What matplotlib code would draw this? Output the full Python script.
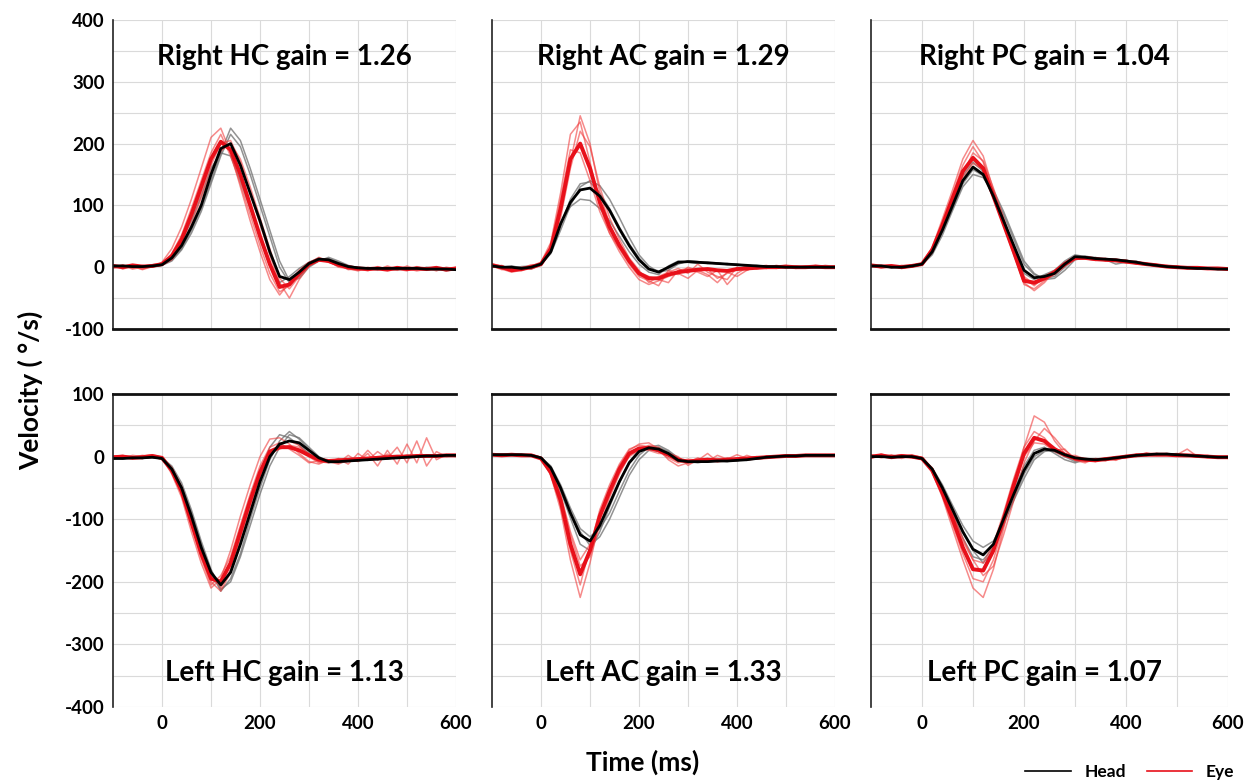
# -*- coding: utf-8 -*-
import numpy as np
from matplotlib import pyplot as plt
from matplotlib.lines import Line2D

plt.rcParams['font.family'] = ['Lato', 'DejaVu Sans']

# time axis (ms), one sample every 20 ms
t = list(range(-100, 601, 20))

# ---- Right HC ----
rhc_head = [2, 2, 1, 1, 2, 4, 15, 35, 65, 100, 150, 192, 200, 165, 120, 75, 25, -15, -20, -8, 6, 13, 12, 6, 1, -1, -2, -2, -2, -2, -2, -2, -3, -3, -3, -4]
rhc_eye = [2, 0, 3, 1, 2, 5, 18, 45, 85, 130, 175, 203, 190, 150, 100, 50, 5, -32, -28, -10, 5, 12, 10, 4, 0, -2, -3, -2, -4, -1, -3, -2, -3, -1, -4, -2]
rhc_head_tr = [
    [3, 1, 2, 0, 1, 3, 10, 28, 55, 90, 135, 180, 215, 195, 150, 100, 50, 0, -25, -15, 2, 12, 14, 8, 2, 0, -3, -1, -4, -2, 0, -3, -1, -4, -2, -5],
    [1, 3, 0, 2, 3, 5, 18, 42, 75, 115, 160, 185, 180, 140, 95, 50, 5, -25, -15, -2, 8, 15, 10, 4, 0, -3, -2, -5, -1, -3, -4, 0, -2, -5, -3, -4],
    [2, 0, 3, 1, 0, 4, 12, 30, 60, 95, 140, 185, 225, 205, 160, 110, 60, 10, -22, -18, 0, 10, 16, 10, 3, -2, -4, -1, -3, -5, -2, -4, 0, -2, -6, -3],
]
rhc_eye_tr = [
    [0, 4, -2, 3, 0, 8, 30, 65, 110, 160, 210, 225, 185, 130, 75, 25, -20, -45, -25, -5, 8, 14, 8, 2, -3, -5, 0, -4, 2, -3, -6, 1, -4, -2, -5, 0],
    [4, -3, 2, -4, 1, 4, 15, 40, 80, 120, 165, 200, 205, 170, 120, 70, 20, -25, -50, -20, 2, 10, 12, 5, -4, -2, -6, 1, -3, -5, 2, -4, -1, -6, 0, -3],
    [1, 2, -3, 0, 4, 6, 22, 52, 95, 140, 185, 215, 180, 135, 85, 35, -10, -40, -30, -8, 6, 16, 10, 0, -2, -6, -1, -3, -5, 0, -4, -2, -5, -3, -1, -4],
    [-2, 3, 0, -3, 2, 3, 12, 35, 70, 112, 155, 188, 200, 175, 130, 80, 30, -18, -35, -15, 4, 11, 9, 3, -1, -3, -5, -2, 0, -4, -2, -6, -3, 0, -5, -2],
]

# ---- Right AC ----
rac_head = [2, 0, 0, -2, 0, 5, 25, 70, 105, 125, 128, 115, 92, 62, 35, 12, -3, -8, 0, 8, 9, 8, 7, 6, 5, 4, 3, 2, 1, 1, 0, 0, 0, 0, 0, 0]
rac_eye = [3, 0, -5, -3, 0, 5, 30, 95, 175, 200, 160, 105, 65, 35, 10, -10, -18, -18, -12, -8, -6, -4, -3, -5, -6, -3, -2, -1, 0, 0, 1, 0, 0, 1, 0, 0]
rac_head_tr = [
    [3, -2, 1, 0, -3, 4, 22, 60, 100, 130, 140, 132, 110, 80, 48, 20, 2, -8, -5, 5, 10, 9, 8, 7, 5, 4, 2, 3, 1, 0, 1, -1, 0, 1, -1, 0],
    [0, 2, -2, 1, 2, 6, 28, 72, 98, 110, 108, 95, 75, 50, 25, 5, -8, -12, 2, 10, 8, 6, 8, 5, 6, 3, 4, 1, 2, 0, -1, 1, 0, -1, 1, 0],
    [1, 0, 2, -1, 1, 5, 24, 68, 110, 135, 138, 120, 95, 65, 38, 15, -2, -6, -2, 6, 10, 9, 6, 7, 4, 5, 2, 2, 0, 1, 0, 0, 1, -1, 0, 1],
]
rac_eye_tr = [
    [5, -3, -8, -5, 2, 8, 40, 120, 215, 235, 170, 100, 55, 25, 0, -20, -28, -22, -15, -10, -18, -5, -12, -25, -8, -15, -5, 2, -2, 3, 0, 2, -1, 3, 1, -1],
    [0, 3, -6, 0, -3, 3, 25, 80, 160, 220, 195, 130, 80, 45, 15, -5, -25, -15, -8, -2, -10, 5, -8, -15, -20, 0, -5, 1, 3, -2, 2, -1, 2, 0, 3, 1],
    [2, -4, -2, -6, 1, 6, 35, 110, 190, 185, 140, 90, 55, 30, 5, -15, -22, -30, -5, -12, 0, -6, -3, -18, -10, -4, 2, -3, 1, 2, -2, 1, 0, 2, -1, 2],
    [6, 1, -4, -2, 4, 4, 28, 90, 170, 245, 200, 120, 70, 38, 12, -8, -15, -20, -25, -5, -2, -8, -15, -5, -28, -10, -1, 0, -2, 1, 3, -2, 1, 0, 2, -1],
]

# ---- Right PC ----
rpc_head = [2, 2, 0, 0, 2, 5, 25, 60, 100, 140, 162, 150, 115, 75, 35, -5, -17, -15, -10, 5, 17, 16, 14, 13, 12, 10, 8, 5, 3, 1, 0, -1, -2, -2, -3, -3]
rpc_eye = [3, 1, 2, 0, 2, 5, 28, 68, 112, 155, 177, 160, 115, 70, 25, -22, -25, -18, -8, 5, 15, 15, 13, 12, 11, 9, 7, 5, 3, 1, 0, -1, -1, -2, -2, -3]
rpc_head_tr = [
    [3, 1, 2, -1, 1, 4, 20, 52, 92, 130, 150, 145, 120, 85, 45, 5, -12, -18, -15, 0, 15, 18, 15, 12, 5, 8, 10, 4, 2, 2, -1, 0, -3, -1, -2, -4],
    [1, 3, -1, 1, 3, 6, 28, 65, 108, 148, 170, 155, 112, 68, 28, -10, -20, -12, -5, 10, 20, 17, 12, 14, 10, 12, 6, 6, 4, 0, 1, -2, -1, -3, -2, -3],
    [2, 0, 1, 2, 0, 5, 22, 58, 95, 135, 158, 148, 125, 90, 50, 10, -10, -20, -18, -5, 12, 15, 16, 11, 13, 9, 7, 5, 2, 1, -1, -2, -2, -1, -4, -2],
]
rpc_eye_tr = [
    [4, 0, 3, -2, 1, 7, 32, 78, 125, 175, 205, 180, 125, 75, 25, -28, -35, -22, -10, 3, 12, 16, 12, 14, 10, 8, 9, 4, 5, 0, 2, -2, 0, -3, -1, -2],
    [1, 3, 0, 2, 4, 4, 24, 60, 102, 145, 168, 158, 120, 78, 32, -15, -28, -20, -12, 2, 14, 13, 15, 10, 12, 10, 5, 6, 2, 3, -1, 0, -2, -1, -3, -2],
    [3, -1, 2, 1, 0, 6, 30, 72, 118, 165, 195, 170, 118, 68, 20, -25, -38, -25, -6, 8, 16, 14, 11, 13, 9, 11, 6, 3, 4, 1, 1, -2, -1, -3, -2, -4],
    [2, 2, -1, 3, 2, 5, 26, 65, 108, 150, 185, 172, 128, 80, 30, -18, -30, -15, -5, 6, 13, 17, 14, 11, 12, 7, 8, 5, 2, 2, 0, -1, -3, -2, -1, -3],
]

# ---- Left HC ----
lhc_head = [-3, -3, -2, -2, -1, -3, -20, -50, -95, -145, -185, -205, -185, -140, -90, -40, 0, 20, 25, 22, 10, -2, -8, -8, -7, -6, -5, -4, -3, -2, -1, 0, 1, 1, 2, 2]
lhc_eye = [-1, 0, -2, -1, 1, -2, -22, -55, -105, -155, -195, -200, -170, -120, -70, -25, 8, 15, 15, 10, 2, -5, -7, -6, -5, -4, -3, -2, -1, 0, 0, 1, 1, 1, 2, 2]
lhc_head_tr = [
    [-4, -2, -3, -1, -2, -2, -15, -42, -85, -135, -180, -212, -200, -160, -110, -60, -15, 15, 35, 30, 15, 0, -8, -10, -8, -5, -6, -3, -4, -1, -2, 0, 0, 2, 1, 3],
    [-2, -4, -1, -3, 0, -4, -22, -55, -100, -150, -190, -200, -170, -125, -75, -25, 15, 35, 30, 18, 5, -5, -9, -7, -6, -7, -4, -5, -2, -3, 0, -1, 2, 0, 3, 1],
    [-3, -1, -2, -3, -1, -3, -18, -48, -90, -140, -185, -215, -195, -155, -100, -50, -5, 25, 40, 28, 12, -3, -10, -9, -6, -4, -5, -2, -3, -1, 1, -1, 1, 2, 1, 2],
]
lhc_eye_tr = [
    [0, 2, -3, 1, 3, -1, -28, -65, -120, -170, -210, -195, -150, -95, -45, 0, 28, 30, 20, 5, -8, -12, -5, -10, 2, -8, 5, -15, 10, -12, 20, -10, 30, -5, 3, 1],
    [-2, 1, 0, -2, 2, -3, -20, -50, -98, -150, -200, -215, -185, -135, -85, -35, 5, 12, 18, 15, 5, -8, -10, -4, -12, 5, -6, 8, -3, 15, -10, 25, -15, 8, 0, 2],
    [1, -2, 2, 0, -1, -1, -24, -60, -110, -162, -205, -190, -160, -110, -60, -15, 15, 22, 12, 2, -10, -6, -9, -3, -6, -2, -4, 0, 1, -2, 3, 0, 2, 1, 3, 0],
    [-1, 1, -1, 2, 0, -2, -18, -48, -95, -145, -185, -210, -180, -128, -78, -30, 2, 20, 25, 18, 0, -10, -8, -12, -5, -7, 10, -6, 4, -2, 1, 2, 0, 3, 1, 2],
]

# ---- Left AC ----
lac_head = [3, 3, 3, 3, 2, -2, -18, -50, -90, -125, -135, -110, -75, -40, -10, 8, 14, 12, 5, -6, -8, -8, -8, -7, -7, -6, -5, -3, -1, 0, 1, 1, 2, 2, 2, 2]
lac_eye = [3, 2, 3, 2, 2, -3, -25, -70, -140, -188, -150, -95, -55, -20, 5, 13, 14, 10, 3, -5, -8, -6, -5, -6, -5, -4, -3, -2, -1, 0, 1, 1, 2, 2, 2, 2]
lac_head_tr = [
    [4, 2, 3, 2, 3, -1, -15, -45, -82, -115, -128, -115, -90, -55, -22, 2, 15, 18, 10, -2, -10, -9, -6, -8, -6, -5, -4, -4, -2, 0, 0, 2, 1, 3, 2, 1],
    [2, 4, 2, 3, 1, -3, -20, -55, -98, -140, -150, -120, -80, -42, -8, 10, 12, 8, 2, -8, -7, -10, -7, -6, -8, -5, -6, -2, -2, 1, 1, 0, 3, 2, 1, 3],
    [3, 3, 4, 2, 2, -2, -17, -48, -88, -120, -142, -128, -100, -65, -30, -5, 10, 15, 8, -3, -9, -6, -9, -7, -5, -7, -3, -3, 0, -1, 2, 1, 2, 1, 3, 2],
]
lac_eye_tr = [
    [4, 3, 2, 4, 1, -2, -30, -85, -165, -225, -170, -100, -55, -15, 10, 20, 22, 12, -5, -15, -10, -2, -8, 2, -4, 3, -3, 0, -2, 1, 2, 0, 3, 1, 2, 3],
    [2, 3, 3, 1, 3, -4, -22, -62, -125, -175, -160, -110, -65, -28, 2, 12, 10, 5, 5, 0, -14, -5, -3, -7, -2, -6, 2, -3, 0, -1, 2, 2, 1, 3, 1, 2],
    [3, 1, 4, 3, 2, -3, -28, -78, -150, -205, -145, -85, -45, -12, 12, 18, 16, 8, -2, -10, -6, -8, -4, -3, -7, -2, -4, -1, 0, 1, 0, 2, 2, 1, 3, 2],
    [2, 4, 2, 3, 2, -2, -20, -60, -120, -165, -140, -100, -62, -25, 0, 10, 18, 15, 2, -8, -4, -6, 5, -8, -3, -5, -2, -4, 1, 0, 2, 1, 3, 2, 1, 3],
]

# ---- Left PC ----
lpc_head = [0, 0, -1, 0, 0, -3, -20, -50, -85, -120, -148, -157, -140, -100, -60, -22, 5, 12, 10, 3, -2, -4, -5, -4, -2, 0, 2, 3, 4, 4, 3, 2, 1, 0, -1, -1]
lpc_eye = [0, 2, -1, 1, 0, -3, -22, -58, -100, -145, -180, -182, -150, -100, -45, 5, 30, 25, 12, 3, -3, -5, -6, -4, -2, 0, 2, 3, 3, 3, 2, 2, 1, 0, -1, -1]
lpc_head_tr = [
    [1, -1, 0, -2, 1, -2, -18, -45, -78, -110, -135, -145, -135, -105, -70, -35, -5, 8, 12, 5, -1, -6, -4, -5, -3, 1, 1, 4, 3, 5, 2, 3, 0, 1, -2, 0],
    [-1, 1, -2, 1, -1, -4, -22, -55, -92, -130, -160, -165, -145, -98, -55, -15, 10, 15, 5, -5, -10, -5, -6, -3, -1, -1, 3, 2, 5, 3, 4, 1, 2, -1, 0, -2],
    [0, 1, 0, -1, 0, -3, -19, -48, -82, -118, -150, -170, -150, -110, -68, -28, 0, 10, 8, 0, -8, -3, -5, -4, -2, 1, 2, 4, 3, 4, 2, 2, 0, 1, -1, -2],
]
lpc_eye_tr = [
    [3, -2, 2, -3, 2, -1, -25, -65, -115, -165, -210, -225, -180, -115, -50, 15, 65, 55, 25, 5, -5, -8, -4, -7, 0, -2, 4, 1, 5, 2, 3, 12, 0, 2, -2, 1],
    [-3, 3, -1, 2, -2, -4, -20, -52, -92, -135, -165, -170, -140, -90, -35, 15, 40, 30, 10, 12, -6, -10, -3, -6, -4, 2, 0, 5, 2, 4, 1, 0, 3, -1, 0, -3],
    [2, 0, 3, -1, 3, -2, -24, -62, -108, -155, -195, -200, -165, -110, -52, 0, 22, 20, 8, 0, 2, -4, -8, -2, -5, -1, 3, 2, 4, 3, 5, 1, 2, -2, 1, 0],
    [-2, 4, 0, 3, -1, -3, -18, -50, -90, -130, -165, -190, -175, -125, -70, -10, 25, 45, 30, 10, -2, -7, -5, -3, -6, 1, 1, 6, 2, 2, 3, 2, -1, 1, 0, -2],
]

titles = ["Right HC gain = 1.26", "Right AC gain = 1.29", "Right PC gain = 1.04",
          "Left HC gain = 1.13", "Left AC gain = 1.33", "Left PC gain = 1.07"]

paineis = [
    (rhc_head, rhc_eye, rhc_head_tr, rhc_eye_tr),
    (rac_head, rac_eye, rac_head_tr, rac_eye_tr),
    (rpc_head, rpc_eye, rpc_head_tr, rpc_eye_tr),
    (lhc_head, lhc_eye, lhc_head_tr, lhc_eye_tr),
    (lac_head, lac_eye, lac_head_tr, lac_eye_tr),
    (lpc_head, lpc_eye, lpc_head_tr, lpc_eye_tr),
]

W, H = 1250, 781
fig = plt.figure(figsize=(12.5, 7.81), dpi=100)

# posicoes dos eixos em pixeis (esquerda, largura) e (topo, baixo)
colunas = [(113, 343), (492, 343), (871, 357)]
linhas = [(20, 329), (394, 707)]

for k in range(6):
    lin, col = divmod(k, 3)
    x0, wd = colunas[col]
    top, bot = linhas[lin]
    ax = fig.add_axes([x0 / W, 1 - bot / H, wd / W, (bot - top) / H])
    head, eye, head_tr, eye_tr = paineis[k]

    for tr in head_tr:
        ax.plot(t, tr, color='#6e6e6e', lw=1.1, alpha=0.75)
    for tr in eye_tr:
        ax.plot(t, tr, color='#f03c3c', lw=1.1, alpha=0.6)
    ax.plot(t, eye, color='#e8101a', lw=2.8)
    ax.plot(t, head, color='black', lw=2.0)

    ax.set_xlim(-100, 600)
    if lin == 0:
        ax.set_ylim(-100, 400)
        ytxt = 340
    else:
        ax.set_ylim(-400, 100)
        ytxt = -345
    ax.text(250 if col < 2 else 240, ytxt, titles[k], ha='center', va='center',
            fontsize=20, fontweight='bold')

    ax.set_xticks([0, 100, 200, 300, 400, 500, 600])
    ax.set_yticks(np.arange(ax.get_ylim()[0], ax.get_ylim()[1] + 1, 50))
    ax.grid(True, color='#dadada', lw=0.8)
    ax.set_axisbelow(True)
    ax.tick_params(length=0, labelsize=13.5, pad=6)

    if col == 0:
        ylab = [str(int(v)) if v % 100 == 0 else '' for v in ax.get_yticks()]
        ax.set_yticklabels(ylab, fontweight='bold')
    else:
        ax.set_yticklabels([])
    if lin == 1:
        ax.set_xticklabels(['0', '', '200', '', '400', '', '600'], fontweight='bold')
    else:
        ax.set_xticklabels([])

    ax.spines['right'].set_visible(False)
    ax.spines['left'].set_color('#222222')
    ax.spines['left'].set_linewidth(1.2)
    if lin == 0:
        ax.spines['top'].set_visible(False)
        ax.spines['bottom'].set_linewidth(2.0)
        ax.spines['bottom'].set_color('#111111')
    else:
        ax.spines['bottom'].set_visible(False)
        ax.spines['top'].set_linewidth(2.0)
        ax.spines['top'].set_color('#111111')

fig.text(30 / W, 1 - 390 / H, 'Velocity ( °/s)', rotation=90, ha='center', va='center',
         fontsize=19, fontweight='bold')
fig.text(643 / W, 1 - 762 / H, 'Time (ms)', ha='center', va='center',
         fontsize=19, fontweight='bold')

handles = [Line2D([], [], color='black', lw=1.2), Line2D([], [], color='#e8101a', lw=1.2)]
fig.legend(handles, ['Head', 'Eye'], loc='center right', bbox_to_anchor=(1.0, 1 - 772 / H),
           ncol=2, frameon=False, prop={'weight': 'bold', 'size': 12.5},
           handlelength=2.6, columnspacing=1.2, handletextpad=0.8)

plt.savefig('out.png', dpi=100)
